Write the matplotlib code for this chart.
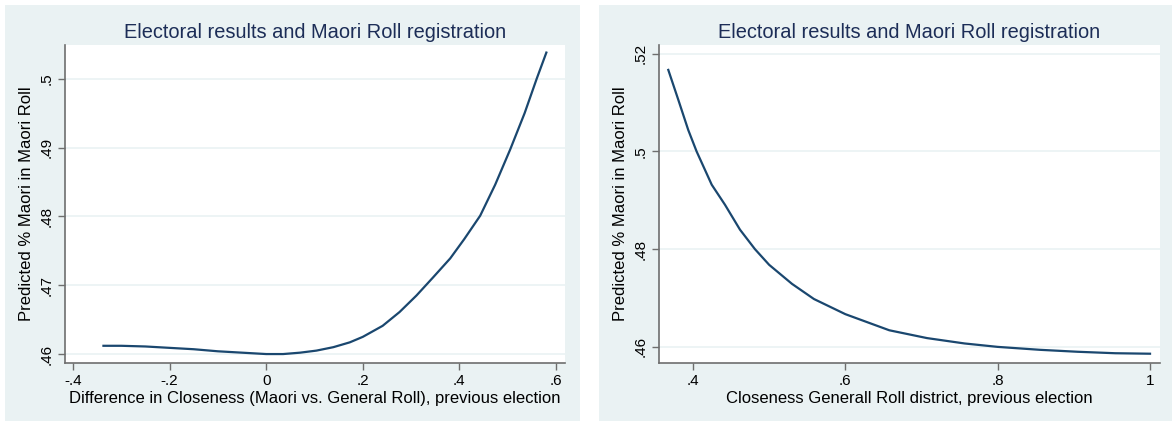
import numpy as np
import matplotlib
matplotlib.use("Agg")
import matplotlib.pyplot as plt
from matplotlib.patches import Rectangle

plt.rcParams['font.family'] = ['Liberation Sans', 'DejaVu Sans']

# predicted share on Maori Roll vs. closeness difference (Maori vs. General Roll)
diff_x = [-0.337, -0.30, -0.25, -0.20, -0.15, -0.10, -0.05, 0.0, 0.035, 0.07,
          0.104, 0.139, 0.173, 0.20, 0.241, 0.276, 0.311, 0.345, 0.381, 0.41,
          0.443, 0.474, 0.505, 0.535, 0.560, 0.580]
diff_y = [0.4612, 0.4612, 0.4611, 0.4609, 0.4607, 0.4604, 0.4602, 0.4600, 0.4600, 0.4602,
          0.4605, 0.4610, 0.4617, 0.4625, 0.4641, 0.4661, 0.4685, 0.4711, 0.4739, 0.4767,
          0.4801, 0.4846, 0.4897, 0.4950, 0.5000, 0.5038]

# predicted share on Maori Roll vs. closeness of General Roll district
close_x = [0.3676, 0.3807, 0.3938, 0.4048, 0.4246, 0.442, 0.4617, 0.4814, 0.50,
           0.53, 0.5588, 0.60, 0.6577, 0.7072, 0.7565, 0.80, 0.8554, 0.9049,
           0.9542, 1.0]
close_y = [0.5167, 0.5106, 0.5044, 0.5000, 0.4932, 0.4891, 0.4840, 0.4800, 0.4768,
           0.4729, 0.4698, 0.4667, 0.4634, 0.4618, 0.4607, 0.4600, 0.4594, 0.4590,
           0.4587, 0.4586]

title = "Electoral results and Maori Roll registration"
ylabel = "Predicted % Maori in Maori Roll"

left_xticks = [-0.4, -0.2, 0, 0.2, 0.4, 0.6]
left_xlabels = ["-.4", "-.2", "0", ".2", ".4", ".6"]
left_yticks = [0.46, 0.47, 0.48, 0.49, 0.5]
left_ylabels = [".46", ".47", ".48", ".49", ".5"]

right_xticks = [0.4, 0.6, 0.8, 1.0]
right_xlabels = [".4", ".6", ".8", "1"]
right_yticks = [0.46, 0.48, 0.5, 0.52]
right_ylabels = [".46", ".48", ".5", ".52"]

BG = "#eaf2f3"
LINE = "#1a476f"
TITLE_COL = "#1c2d57"
AXIS_COL = "#6e6e6e"

W, H = 1176, 424
fig = plt.figure(figsize=(W / 100, H / 100), dpi=100)
fig.patch.set_facecolor("white")

# graph regions (stata-like light blue background)
for x0, x1 in [(5, 580), (599, 1172)]:
    fig.patches.append(Rectangle((x0 / W, 3 / H), (x1 - x0) / W, (419 - 3) / H,
                                 transform=fig.transFigure, facecolor=BG,
                                 edgecolor="none", zorder=0))


def make_panel(rect, xs, ys, xlim, ylim, xticks, xlabels, yticks, ylabels, xlabel):
    ax = fig.add_axes(rect)
    ax.set_zorder(2)
    ax.set_facecolor("white")
    ax.plot(xs, ys, color=LINE, lw=1.6, solid_joinstyle="round")
    ax.set_xlim(*xlim)
    ax.set_ylim(*ylim)
    ax.set_xticks(xticks)
    ax.set_xticklabels(xlabels)
    ax.set_yticks(yticks)
    ax.set_yticklabels(ylabels, rotation=90, va="center")
    for y in yticks:
        ax.axhline(y, color=BG, lw=1.2, zorder=0)
    for s in ["top", "right"]:
        ax.spines[s].set_visible(False)
    for s in ["left", "bottom"]:
        ax.spines[s].set_color(AXIS_COL)
        ax.spines[s].set_linewidth(1.2)
    ax.tick_params(direction="out", length=5, width=1, color=AXIS_COL,
                   labelsize=11, labelcolor="black", pad=3)
    ax.set_xlabel(xlabel, fontsize=12, labelpad=2)
    ax.set_ylabel(ylabel, fontsize=12, labelpad=4)
    ax.set_title(title, fontsize=14.4, color=TITLE_COL, pad=5)
    return ax


make_panel([65 / W, (H - 363) / H, 500 / W, 318 / H], diff_x, diff_y,
           (-0.4166, 0.6186), (0.4587, 0.5049),
           left_xticks, left_xlabels, left_yticks, left_ylabels,
           "Difference in Closeness (Maori vs. General Roll), previous election")

make_panel([659 / W, (H - 363) / H, 501 / W, 318 / H], close_x, close_y,
           (0.3554, 1.0131), (0.4567, 0.5218),
           right_xticks, right_xlabels, right_yticks, right_ylabels,
           "Closeness Generall Roll district, previous election")

fig.savefig("out.png", dpi=100)
